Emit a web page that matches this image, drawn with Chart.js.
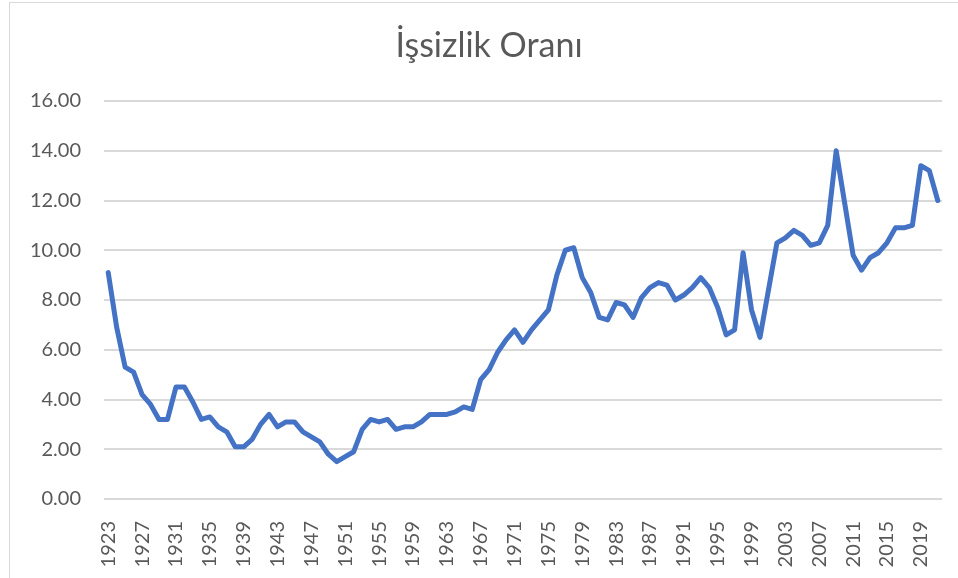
<!DOCTYPE html>
<html lang="tr">
<head>
<meta charset="utf-8">
<title>İşsizlik Oranı</title>
<script src="https://cdn.jsdelivr.net/npm/chart.js@4/dist/chart.umd.min.js"></script>
<style>
  html, body { margin: 0; padding: 0; background: #fff; }
  #wrap { position: relative; width: 958px; height: 578px; overflow: hidden; }
  #frame {
    position: absolute; left: 9px; top: 2px; width: 1000px; height: 700px;
    border: 1px solid #d9d9d9; box-sizing: border-box; pointer-events: none;
  }
</style>
</head>
<body>
<div id="wrap">
  <canvas id="rate-chart" width="958" height="578"></canvas>
  <div id="frame"></div>
</div>
<script>
  // Years 1923..2021
  const years = [
    1923, 1924, 1925, 1926, 1927, 1928, 1929, 1930, 1931, 1932,
    1933, 1934, 1935, 1936, 1937, 1938, 1939, 1940, 1941, 1942,
    1943, 1944, 1945, 1946, 1947, 1948, 1949, 1950, 1951, 1952,
    1953, 1954, 1955, 1956, 1957, 1958, 1959, 1960, 1961, 1962,
    1963, 1964, 1965, 1966, 1967, 1968, 1969, 1970, 1971, 1972,
    1973, 1974, 1975, 1976, 1977, 1978, 1979, 1980, 1981, 1982,
    1983, 1984, 1985, 1986, 1987, 1988, 1989, 1990, 1991, 1992,
    1993, 1994, 1995, 1996, 1997, 1998, 1999, 2000, 2001, 2002,
    2003, 2004, 2005, 2006, 2007, 2008, 2009, 2010, 2011, 2012,
    2013, 2014, 2015, 2016, 2017, 2018, 2019, 2020, 2021
  ];

  // Unemployment rate (%)
  const unemploymentRate = [
    9.1, 6.9, 5.3, 5.1, 4.2, 3.8, 3.2, 3.2, 4.5, 4.5,
    3.9, 3.2, 3.3, 2.9, 2.7, 2.1, 2.1, 2.4, 3.0, 3.4,
    2.9, 3.1, 3.1, 2.7, 2.5, 2.3, 1.8, 1.5, 1.7, 1.9,
    2.8, 3.2, 3.1, 3.2, 2.8, 2.9, 2.9, 3.1, 3.4, 3.4,
    3.4, 3.5, 3.7, 3.6, 4.8, 5.2, 5.9, 6.4, 6.8, 6.3,
    6.8, 7.2, 7.6, 9.0, 10.0, 10.1, 8.9, 8.3, 7.3, 7.2,
    7.9, 7.8, 7.3, 8.1, 8.5, 8.7, 8.6, 8.0, 8.2, 8.5,
    8.9, 8.5, 7.7, 6.6, 6.8, 9.9, 7.6, 6.5, 8.4, 10.3,
    10.5, 10.8, 10.6, 10.2, 10.3, 11.0, 14.0, 11.9, 9.8, 9.2,
    9.7, 9.9, 10.3, 10.9, 10.9, 11.0, 13.4, 13.2, 12.0
  ];

  // Only every fourth year gets a label on the axis
  const labelStep = 4;

  const chartTitle = 'İşsizlik Oranı';
  const textColor = '#595959';
  const gridColor = '#d9d9d9';
  const lineColor = '#4472c4';

  // The title sits centred on the outer frame, not on the canvas,
  // so it is drawn here instead of by the title plugin
  const framedTitle = {
    id: 'framedTitle',
    afterDraw(chart) {
      const c = chart.ctx;
      c.save();
      c.font = '34px Lato';
      c.fillStyle = textColor;
      c.textAlign = 'center';
      c.textBaseline = 'middle';
      c.fillText(chartTitle, 489, 46);
      c.restore();
    }
  };

  function initRateChart() {
    const ctx = document.getElementById('rate-chart');
    if (!ctx || typeof Chart === 'undefined') return;

    new Chart(ctx, {
      type: 'line',
      data: {
        labels: years.map(String),
        datasets: [{
          label: chartTitle,
          data: unemploymentRate,
          borderColor: lineColor,
          borderWidth: 5,
          borderJoinStyle: 'round',
          borderCapStyle: 'round',
          pointRadius: 0,
          tension: 0,
          fill: false
        }]
      },
      plugins: [framedTitle],
      options: {
        responsive: false,
        animation: false,
        layout: {
          padding: { top: 101, right: 16, bottom: 0, left: 0 }
        },
        plugins: {
          legend: { display: false },
          tooltip: { enabled: false },
          title: { display: false }
        },
        scales: {
          x: {
            offset: true,
            grid: { display: false },
            border: { display: false },
            afterFit: function(scale) {
              scale.height = 79;
              // rotated labels would otherwise eat into the plot width
              scale.paddingLeft = 0;
              scale.paddingRight = 0;
            },
            ticks: {
              autoSkip: false,
              minRotation: 90,
              maxRotation: 90,
              padding: 14,
              color: textColor,
              font: { family: 'Lato', size: 20 },
              callback: function(value, index) {
                return index % labelStep === 0 ? this.getLabelForValue(value) : '';
              }
            }
          },
          y: {
            min: 0,
            max: 16,
            border: { display: false },
            grid: {
              color: gridColor,
              lineWidth: 2,
              drawTicks: false
            },
            afterFit: function(scale) { scale.width = 104; },
            ticks: {
              stepSize: 2,
              padding: 23,
              color: textColor,
              font: { family: 'Lato', size: 20 },
              callback: function(value) {
                return value.toFixed(2);
              }
            }
          }
        }
      }
    });
  }

  if (document.readyState === 'loading') {
    document.addEventListener('DOMContentLoaded', initRateChart);
  } else {
    initRateChart();
  }
</script>
</body>
</html>
